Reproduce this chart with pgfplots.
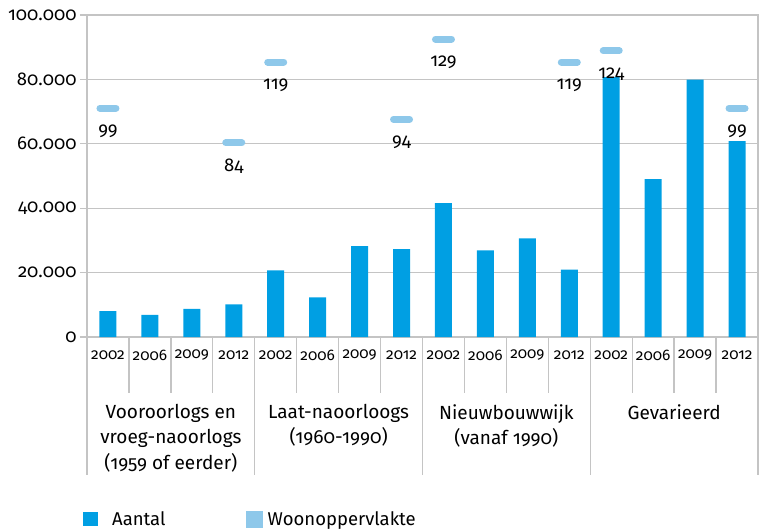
\documentclass[border=0pt]{standalone}
\usepackage{fontspec}
\setmainfont{Fira Sans}[Numbers=OldStyle]
\usepackage{pgfplots}
\pgfplotsset{compat=1.18}
\definecolor{barblue}{HTML}{009FE3}
\definecolor{lightblue}{HTML}{8EC8EA}
\definecolor{gridgray}{HTML}{C4C4C4}
\pgfplotstableread{
x  y
0  8000
1  6900
2  8700
3  10100
4  20700
5  12300
6  28200
7  27300
8  41600
9  26900
10 30600
11 20900
12 80700
13 49000
14 79900
15 60800
}\aantal
\pgfplotstableread{
x  y      m
0  71100  99
3  60300  84
4  85400  119
7  67600  94
8  92500  129
11 85400  119
12 88900  124
15 71100  99
}\woon
\begin{document}
\begin{tikzpicture}
\useasboundingbox (-87pt,-194pt) rectangle (672pt,337pt);
\begin{axis}[
  at={(0,0)}, anchor=south west,
  scale only axis, width=671pt, height=322pt,
  xmin=-0.5, xmax=15.5, ymin=0, ymax=100000,
  xtick={0,...,15},
  xticklabels={2002,2006,2009,2012,2002,2006,2009,2012,2002,2006,2009,2012,2002,2006,2009,2012},
  ytick={0,20000,40000,60000,80000,100000},
  yticklabels={0,20.000,40.000,60.000,80.000,100.000},
  scaled y ticks=false,
  yticklabel style={font=\fontsize{18.5}{20}\selectfont},
  xticklabel style={font=\fontsize{15.3}{17}\selectfont, anchor=center, yshift=-11pt},
  ymajorgrids, grid style={gridgray, line width=1.3pt},
  axis line style={gridgray, line width=1.3pt},
  ytick style={gridgray, line width=1.3pt},
  xtick style={draw=none},
  major tick length=7pt, tick align=outside,
  ytick pos=left, xtick pos=bottom,
  clip=false,
  legend style={at={(axis description cs:-0.0105,-0.565)}, anchor=west, draw=none, fill=none,
    font=\fontsize{18.5}{20}\selectfont, legend columns=2,
    /tikz/every even column/.append style={column sep=78pt}},
  legend cell align=left,
]
\addplot[ybar, bar width=17pt, fill=barblue, draw=none,
  legend image code/.code={\fill[barblue] (0pt,-7pt) rectangle (15pt,7pt); \path[draw=none, fill=none] (0pt,0pt) -- (27pt,0pt);}]
  table[x=x, y=y] {\aantal};
\addlegendentry{Aantal}
\addplot[only marks, mark=-, mark size=8pt,
  mark options={lightblue, line width=7pt, line cap=round},
  nodes near coords, point meta=explicit symbolic,
  nodes near coords style={anchor=center, yshift=-23pt, text=black, font=\fontsize{18.5}{20}\selectfont},
  legend image code/.code={\fill[lightblue] (0pt,-8pt) rectangle (16pt,8pt); \path[draw=none, fill=none] (0pt,0pt) -- (20pt,0pt);}]
  table[x=x, y=y, meta=m] {\woon};
\addlegendentry{Woonoppervlakte}
\pgfplotsinvokeforeach{0.5,1.5,2.5,4.5,5.5,6.5,8.5,9.5,10.5,12.5,13.5,14.5}{
  \draw[gridgray, line width=1.3pt] (axis cs:#1,0) -- ++(0pt,-56pt);
}
\pgfplotsinvokeforeach{-0.5,3.5,7.5,11.5,15.5}{
  \draw[gridgray, line width=1.3pt] (axis cs:#1,0) -- ++(0pt,-138pt);
}
\node[anchor=north, align=center, inner sep=0pt, font=\fontsize{19}{25.5}\selectfont]
  at ([yshift=-67pt]axis cs:1.5,0) {Vooroorlogs en\\vroeg-naoorlogs\\(1959 of eerder)};
\node[anchor=north, align=center, inner sep=0pt, font=\fontsize{19}{25.5}\selectfont]
  at ([yshift=-67pt]axis cs:5.5,0) {Laat-naoorloogs\\(1960-1990)};
\node[anchor=north, align=center, inner sep=0pt, font=\fontsize{19}{25.5}\selectfont]
  at ([yshift=-67pt]axis cs:9.5,0) {Nieuwbouwwijk\\(vanaf 1990)};
\node[anchor=north, align=center, inner sep=0pt, font=\fontsize{19}{25.5}\selectfont]
  at ([yshift=-67pt]axis cs:13.5,0) {Gevarieerd};
\end{axis}
\end{tikzpicture}
\end{document}
